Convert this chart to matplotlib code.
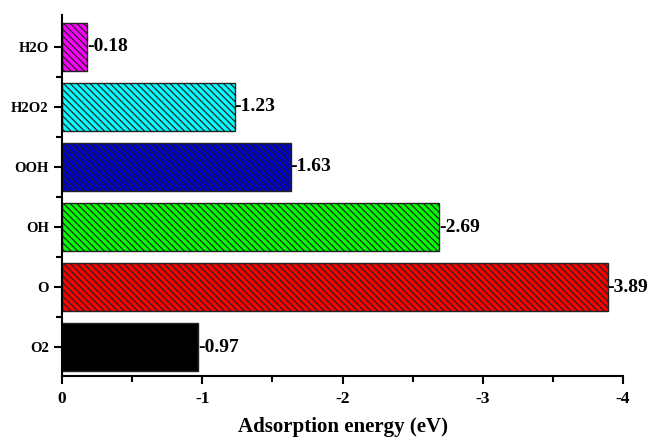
import matplotlib
matplotlib.use('agg')

import matplotlib.pyplot as plt
from matplotlib.ticker import MultipleLocator

# Adsorption energies of the intermediates (eV)
species = ['O2', 'O', 'OH', 'OOH', 'H2O2', 'H2O']
energies = [-0.97, -3.89, -2.69, -1.63, -1.23, -0.18]
colors = ['#000000', '#ff0000', '#00ff00', '#0000cc', '#00ffff', '#ff00ff']
hatches = ['', '\\\\\\\\\\', '\\\\\\\\\\', '\\\\\\\\\\', '\\\\\\\\\\', '\\\\\\\\\\']

plt.rcParams['font.family'] = ['Liberation Serif', 'DejaVu Serif']
plt.rcParams['font.weight'] = 'bold'
plt.rcParams['hatch.linewidth'] = 0.9

fig = plt.figure(figsize=(6.48, 4.4), dpi=100)
ax = fig.add_axes([0.0957, 0.1455, 0.8657, 0.8205])

ypos = list(range(len(species)))
for y, e, c, h in zip(ypos, energies, colors, hatches):
    ax.barh(y, e, height=0.8, color=c, edgecolor='#222222', linewidth=1.0,
            hatch=h)
    ax.text(e, y, '%.2f' % e, ha='left', va='center', fontsize=14,
            fontweight='bold')

ax.set_xlim(0, -4)
ax.set_ylim(-0.48, 5.53)
ax.set_yticks(ypos)
ax.set_yticklabels(species, fontsize=10.5, fontweight='bold')
ax.set_xticks([0, -1, -2, -3, -4])
ax.set_xticklabels(['0', '-1', '-2', '-3', '-4'], fontsize=12.5,
                   fontweight='bold')
ax.xaxis.set_minor_locator(MultipleLocator(0.5))
ax.set_yticks([0.5, 1.5, 2.5, 3.5, 4.5], minor=True)

ax.spines['top'].set_visible(False)
ax.spines['right'].set_visible(False)
for s in ('left', 'bottom'):
    ax.spines[s].set_linewidth(1.5)
ax.tick_params(which='major', direction='out', length=6, width=1.5)
ax.tick_params(which='minor', direction='out', length=4, width=1.5)
ax.tick_params(axis='x', pad=5)

ax.set_xlabel('Adsorption energy (eV)', fontsize=15, fontweight='bold',
              labelpad=7)

fig.savefig('out.png', dpi=100)
